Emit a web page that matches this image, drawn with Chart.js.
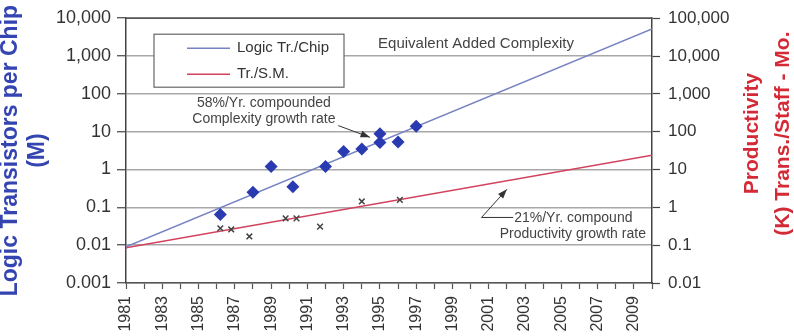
<!DOCTYPE html>
<html lang="en">
<head>
<meta charset="UTF-8">
<title>Logic transistors and productivity</title>
<script src="https://cdn.jsdelivr.net/npm/chart.js"></script>
<style>
  html, body { margin: 0; padding: 0; background: #fff; }
  #wrap { width: 794px; height: 336px; }
</style>
</head>
<body>
<div id="wrap"><canvas id="myChart" width="794" height="336"></canvas></div>
<script>
// data
const logicYears = [1986.2, 1988, 1989, 1990.2, 1992, 1993, 1994, 1995, 1995, 1996, 1997];
const logicValues = [0.065, 0.25, 1.2, 0.35, 1.2, 3, 3.5, 8.8, 5.2, 5.3, 14];
const smYears = [1986.2, 1986.8, 1987.8, 1989.8, 1990.4, 1991.7, 1994, 1996.1];
const smValues = [0.28, 0.26, 0.17, 0.51, 0.51, 0.31, 1.43, 1.58];
const trendYears = [1981, 2010];
const logicTrend = [0.009, 5200];
const smTrend = [0.085, 24];
const leftTicks = [0.001, 0.01, 0.1, 1, 10, 100, 1000, 10000];
const rightTicks = [0.01, 0.1, 1, 10, 100, 1000, 10000, 100000];

const BLUE_LINE = '#7682c2';
const RED_LINE = '#d2425e';
const FONT = "'Liberation Sans', Arial, sans-serif";

function pts(xs, ys) {
  return xs.map((x, i) => ({ x: x, y: ys[i] }));
}

function fmt(v) {
  return v >= 1 ? v.toLocaleString('en-US') : String(v);
}

function arrow(ctx, p, color) {
  ctx.save();
  ctx.strokeStyle = color;
  ctx.fillStyle = color;
  ctx.lineWidth = 1;
  ctx.beginPath();
  ctx.moveTo(p[0][0], p[0][1]);
  for (let i = 1; i < p.length; i++) ctx.lineTo(p[i][0], p[i][1]);
  ctx.stroke();
  const a = p[p.length - 2], b = p[p.length - 1];
  const ang = Math.atan2(b[1] - a[1], b[0] - a[0]);
  ctx.beginPath();
  ctx.moveTo(b[0], b[1]);
  ctx.lineTo(b[0] - 10 * Math.cos(ang - 0.35), b[1] - 10 * Math.sin(ang - 0.35));
  ctx.lineTo(b[0] - 10 * Math.cos(ang + 0.35), b[1] - 10 * Math.sin(ang + 0.35));
  ctx.closePath();
  ctx.fill();
  ctx.restore();
}

const extras = {
  id: 'extras',
  afterDraw(chart) {
    const ctx = chart.ctx;
    const area = chart.chartArea;
    const sx = chart.scales.x, sy = chart.scales.y;
    const X = v => sx.getPixelForValue(v);
    const Y = v => sy.getPixelForValue(v);

    // top border
    ctx.save();
    ctx.strokeStyle = '#555';
    ctx.lineWidth = 1.5;
    ctx.beginPath();
    ctx.moveTo(area.left, area.top);
    ctx.lineTo(area.right, area.top);
    ctx.stroke();

    // axis titles, both reading bottom to top
    const midY = (area.top + area.bottom) / 2;
    ctx.textAlign = 'center';
    ctx.textBaseline = 'middle';
    ctx.font = 'bold 23px ' + FONT;
    ctx.fillStyle = '#3444b0';
    [['Logic Transistors per Chip', 11], ['(M)', 38]].forEach(([t, x]) => {
      ctx.save(); ctx.translate(x, midY); ctx.rotate(-Math.PI / 2);
      ctx.fillText(t, 0, 0); ctx.restore();
    });
    ctx.font = 'bold 21px ' + FONT;
    ctx.fillStyle = '#d42a36';
    [['Productivity', 752], ['(K) Trans./Staff - Mo.', 783]].forEach(([t, x]) => {
      ctx.save(); ctx.translate(x, midY - 17); ctx.rotate(-Math.PI / 2);
      ctx.fillText(t, 0, 0); ctx.restore();
    });

    // legend box
    const lx = area.left + 28, ly = area.top + 16;
    ctx.fillStyle = '#fff';
    ctx.fillRect(lx, ly, 190, 53);
    ctx.strokeStyle = '#666';
    ctx.lineWidth = 1.2;
    ctx.strokeRect(lx, ly, 190, 53);
    ctx.font = '15px ' + FONT;
    ctx.textAlign = 'left';
    const legendItems = chart.data.datasets.filter(d => d.showLine);
    legendItems.forEach((d, i) => {
      const yy = ly + 14 + i * 26;
      ctx.strokeStyle = d.borderColor;
      ctx.lineWidth = 1.5;
      ctx.beginPath();
      ctx.moveTo(lx + 33, yy); ctx.lineTo(lx + 76, yy);
      ctx.stroke();
      ctx.fillStyle = '#333';
      ctx.fillText(d.label, lx + 83, yy);
    });

    // annotations
    ctx.fillStyle = '#444';
    ctx.textAlign = 'center';
    ctx.font = '15px ' + FONT;
    ctx.fillText('Equivalent Added Complexity', X(2000.3), Y(2100));
    ctx.font = '14px ' + FONT;
    ctx.fillText('58%/Yr. compounded', X(1988.6), Y(58));
    ctx.fillText('Complexity growth rate', X(1988.6), Y(21));
    ctx.textAlign = 'left';
    ctx.fillText('21%/Yr. compound', X(2002.4), Y(0.052));
    ctx.fillText('Productivity growth rate', X(2001.6), Y(0.02));
    arrow(ctx, [[X(1992.7), Y(14.5)], [X(1994.45), Y(7.1)]], '#333');
    arrow(ctx, [[X(2002.35), Y(0.054)], [X(2000.6), Y(0.054)], [X(2002.0), Y(0.3)]], '#333');
    ctx.restore();
  }
};

new Chart(document.getElementById('myChart'), {
  type: 'scatter',
  data: {
    datasets: [
      {
        label: 'Logic data',
        data: pts(logicYears, logicValues),
        yAxisID: 'y',
        pointStyle: 'rectRot',
        pointRadius: 6.5,
        backgroundColor: '#2a3ab0',
        borderColor: '#2a3ab0',
        borderWidth: 0,
        order: 0
      },
      {
        label: 'S.M. data',
        data: pts(smYears, smValues),
        yAxisID: 'y1',
        pointStyle: 'crossRot',
        pointRadius: 4,
        borderColor: '#444',
        borderWidth: 1.5,
        order: 0
      },
      {
        label: 'Logic Tr./Chip',
        data: pts(trendYears, logicTrend),
        yAxisID: 'y',
        showLine: true,
        pointRadius: 0,
        borderColor: BLUE_LINE,
        borderWidth: 1.5,
        order: 1
      },
      {
        label: 'Tr./S.M.',
        data: pts(trendYears, smTrend),
        yAxisID: 'y1',
        showLine: true,
        pointRadius: 0,
        borderColor: RED_LINE,
        borderWidth: 1.5,
        order: 1
      }
    ]
  },
  options: {
    responsive: false,
    animation: false,
    layout: { padding: { top: 14, left: 0, right: 0, bottom: 0 } },
    plugins: {
      legend: { display: false },
      tooltip: { enabled: false }
    },
    scales: {
      x: {
        type: 'linear',
        min: 1981,
        max: 2010,
        afterBuildTicks(scale) {
          const t = [];
          for (let v = 1981; v <= 2010; v++) t.push({ value: v });
          scale.ticks = t;
        },
        afterFit(scale) { scale.height = 53; },
        ticks: {
          autoSkip: false,
          minRotation: 90,
          maxRotation: 90,
          padding: 7,
          color: '#333',
          font: { family: FONT, size: 16 },
          callback: v => (v % 2 === 1 ? String(v) : '')
        },
        grid: { drawOnChartArea: false, tickLength: 6, tickColor: '#555', tickWidth: 1.2 },
        border: { color: '#555', width: 1.5 }
      },
      y: {
        type: 'logarithmic',
        position: 'left',
        min: 0.001,
        max: 10000,
        afterBuildTicks(scale) { scale.ticks = leftTicks.map(v => ({ value: v })); },
        afterFit(scale) { scale.width = 126; },
        ticks: {
          padding: 6,
          color: '#333',
          font: { family: FONT, size: 18 },
          callback: v => fmt(v)
        },
        grid: { color: '#a8a8a8', lineWidth: 1.5, tickLength: 9, tickColor: '#444', tickWidth: 1.2 },
        border: { color: '#444', width: 1.5 }
      },
      y1: {
        type: 'logarithmic',
        position: 'right',
        min: 0.01,
        max: 100000,
        afterBuildTicks(scale) { scale.ticks = rightTicks.map(v => ({ value: v })); },
        afterFit(scale) { scale.width = 142; },
        ticks: {
          padding: 8,
          color: '#333',
          font: { family: FONT, size: 17 },
          callback: v => fmt(v)
        },
        grid: { drawOnChartArea: false, tickLength: 8, tickColor: '#444', tickWidth: 1.2 },
        border: { color: '#444', width: 1.5 }
      }
    }
  },
  plugins: [extras]
});
</script>
</body>
</html>
